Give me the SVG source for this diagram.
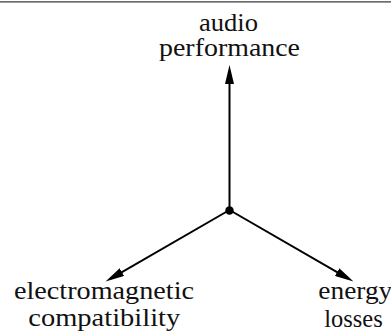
<svg xmlns="http://www.w3.org/2000/svg" width="391" height="335" viewBox="0 0 391 335">
  <style>
    .lbl { font-size: 25px; fill: #111; }
    .conn { stroke: #000; stroke-width: 2; fill: none; }
  </style>
  <defs>
    <marker id="arrow" viewBox="0 0 19 9" refX="13" refY="4.5" markerWidth="19" markerHeight="9" markerUnits="userSpaceOnUse" orient="auto">
      <path d="M0,0 L19,4.5 L0,9 Z" fill="#000"/>
    </marker>
  </defs>
  <rect x="0" y="1" width="391" height="1.7" fill="#6e6e6e"/>
  <g id="connectors">
    <line class="conn" x1="229.5" y1="210" x2="229.5" y2="71" marker-end="url(#arrow)"/>
    <line class="conn" x1="229.5" y1="210" x2="110.7" y2="278.6" marker-end="url(#arrow)"/>
    <line class="conn" x1="229.5" y1="210" x2="348.3" y2="278.6" marker-end="url(#arrow)"/>
  </g>
  <g id="center">
    <circle cx="229.5" cy="210.5" r="4.2" fill="#000"/>
  </g>
  <g id="labels" font-family="'Liberation Serif', 'Times New Roman', serif">
    <g id="audio-performance">
      <text class="lbl" x="199" y="31" textLength="59" lengthAdjust="spacingAndGlyphs">audio</text>
      <text class="lbl" x="159" y="55.5" textLength="141" lengthAdjust="spacingAndGlyphs">performance</text>
    </g>
    <g id="electromagnetic-compatibility">
      <text class="lbl" x="14" y="299.3" textLength="180" lengthAdjust="spacingAndGlyphs">electromagnetic</text>
      <text class="lbl" x="28.3" y="325.5" textLength="152" lengthAdjust="spacingAndGlyphs">compatibility</text>
    </g>
    <g id="energy-losses">
      <text class="lbl" x="318.3" y="298.8" textLength="74" lengthAdjust="spacingAndGlyphs">energy</text>
      <text class="lbl" x="324.3" y="326.5" textLength="58.4" lengthAdjust="spacingAndGlyphs">losses</text>
    </g>
  </g>
</svg>
